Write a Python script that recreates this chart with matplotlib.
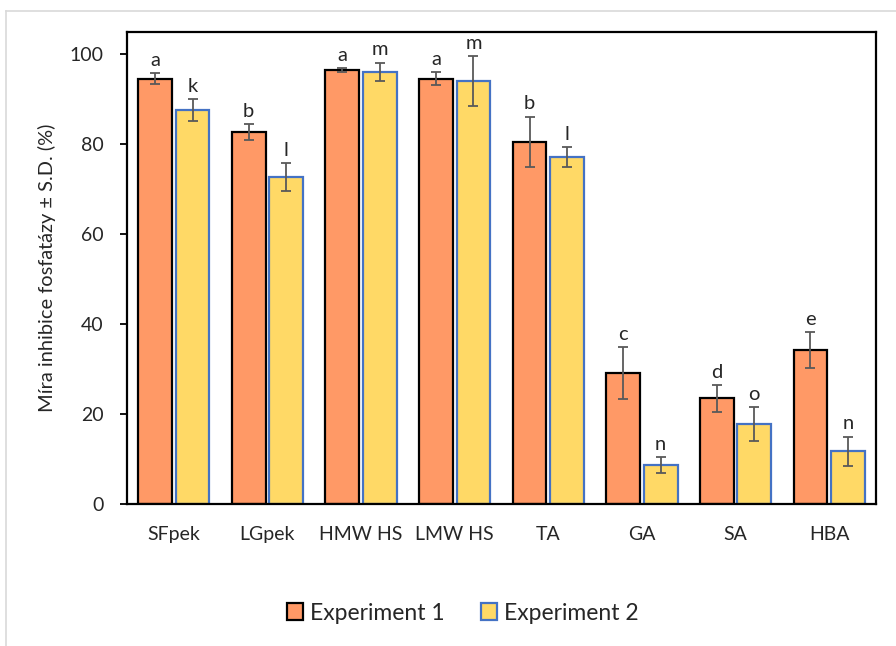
import matplotlib
matplotlib.use("Agg")
import matplotlib.pyplot as plt
import numpy as np
from matplotlib.lines import Line2D
from matplotlib.patches import Patch

# Data
categories = ["SFpek", "LGpek", "HMW HS", "LMW HS", "TA", "GA", "SA", "HBA"]
exp1_values = [94.6, 82.8, 96.6, 94.6, 80.6, 29.1, 23.5, 34.2]
exp1_sd = [1.2, 1.8, 0.4, 1.4, 5.6, 5.8, 3.0, 4.0]
exp2_values = [87.6, 72.8, 96.1, 94.1, 77.2, 8.6, 17.8, 11.7]
exp2_sd = [2.4, 3.1, 2.1, 5.6, 2.2, 1.8, 3.7, 3.3]
exp1_letters = ["a", "b", "a", "a", "b", "c", "d", "e"]
exp2_letters = ["k", "l", "m", "m", "l", "n", "o", "n"]
series_names = ["Experiment 1", "Experiment 2"]
y_label = "Míra inhibice fosfatázy ± S.D. (%)"
y_ticks = [0, 20, 40, 60, 80, 100]

plt.rcParams["font.family"] = ["Lato", "DejaVu Sans"]

fig = plt.figure(figsize=(8.96, 6.46), dpi=100)
ax = fig.add_axes([127 / 896, 1 - 504 / 646, (876 - 127) / 896, (504 - 32) / 646])

orange = "#FF9966"
yellow = "#FFD966"
blue = "#4472C4"
err_col = "#595959"
txt = "#262626"

x = np.arange(len(categories))
w = 0.36
off = 0.2

ax.bar(x - off, exp1_values, w, color=orange, edgecolor="black", linewidth=1.6, zorder=2)
ax.bar(x + off, exp2_values, w, color=yellow, edgecolor=blue, linewidth=1.6, zorder=2)
ax.errorbar(x - off, exp1_values, yerr=exp1_sd, fmt="none", ecolor=err_col,
            elinewidth=1.3, capsize=3.6, capthick=1.3, zorder=3)
ax.errorbar(x + off, exp2_values, yerr=exp2_sd, fmt="none", ecolor=err_col,
            elinewidth=1.3, capsize=3.6, capthick=1.3, zorder=3)

for xs, vals, sds, letters in [(x - off, exp1_values, exp1_sd, exp1_letters),
                               (x + off, exp2_values, exp2_sd, exp2_letters)]:
    for xi, v, s, t in zip(xs, vals, sds, letters):
        ax.annotate(t, (xi, v + s), xytext=(0, 3), textcoords="offset points",
                    ha="center", va="bottom", fontsize=14.5, color=txt)

ax.set_xlim(-0.5, len(categories) - 0.5)
ax.set_ylim(0, 105)
ax.set_yticks(y_ticks)
ax.set_xticks(x)
ax.set_xticklabels(categories)
ax.tick_params(axis="x", length=0, pad=16, labelsize=14, labelcolor=txt)
ax.tick_params(axis="y", length=5, width=1.3, pad=12, labelsize=14, labelcolor=txt)
for sp in ax.spines.values():
    sp.set_linewidth(1.6)
    sp.set_color("black")
ax.set_ylabel(y_label, fontsize=14.4, color=txt, labelpad=10)

handles = [Patch(facecolor=orange, edgecolor="black", linewidth=1.6),
           Patch(facecolor=yellow, edgecolor=blue, linewidth=1.6)]
fig.legend(handles, series_names, loc="center", bbox_to_anchor=(463 / 896, 1 - 613 / 646),
           ncol=2, frameon=False, fontsize=16.5, handlelength=0.7, handleheight=0.7,
           handletextpad=0.3, columnspacing=1.6, labelcolor=txt)

# Light outer frame around the chart area
fig.add_artist(Line2D([6 / 896, 1.0], [1 - 11 / 646, 1 - 11 / 646],
                      transform=fig.transFigure, color="#D9D9D9", linewidth=1.2))
fig.add_artist(Line2D([6 / 896, 6 / 896], [0.0, 1 - 11 / 646],
                      transform=fig.transFigure, color="#D9D9D9", linewidth=1.2))

fig.savefig("out.png", dpi=100, facecolor="white")
